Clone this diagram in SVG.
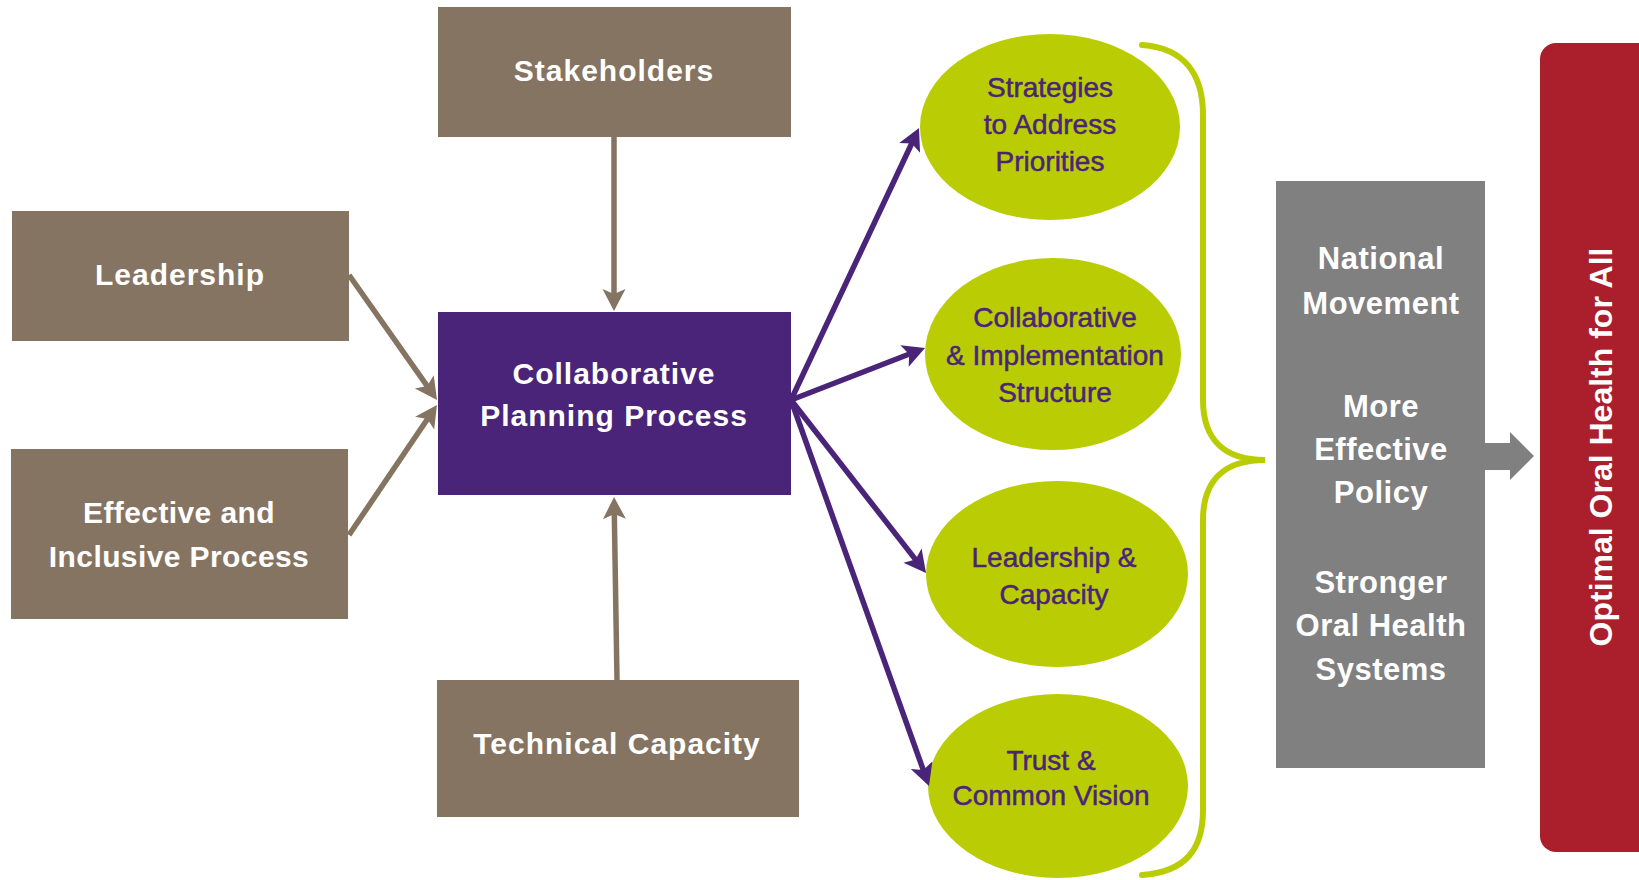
<svg xmlns="http://www.w3.org/2000/svg" width="1639" height="880" viewBox="0 0 1639 880">
<style>
.box{fill:#857462}
.boxt{font-family:"Liberation Sans",Arial,sans-serif;font-weight:bold;font-size:30px;fill:#ffffff;text-anchor:middle;letter-spacing:1px}
.tight{letter-spacing:0.4px}
.ell{fill:#bacd04}
.ellt{font-family:"Liberation Sans",Arial,sans-serif;font-size:28px;fill:#4a2478;stroke:#4a2478;stroke-width:0.5px;text-anchor:middle}
.grayt{font-family:"Liberation Sans",Arial,sans-serif;font-weight:bold;font-size:31px;fill:#ffffff;text-anchor:middle;letter-spacing:0.5px}
.bl{stroke:#857462;stroke-width:5.5;fill:none}
.pl{stroke:#4a2478;stroke-width:5.5;fill:none}
</style>
<defs>
<marker id="ab" markerUnits="userSpaceOnUse" markerWidth="40" markerHeight="40" refX="0" refY="0" viewBox="-20 -20 40 40" orient="auto" overflow="visible">
<path d="M-6,-11.5 L16,0 L-6,11.5 L-1,0 Z" fill="#857462"/>
</marker>
<marker id="ap" markerUnits="userSpaceOnUse" markerWidth="40" markerHeight="40" refX="0" refY="0" viewBox="-20 -20 40 40" orient="auto" overflow="visible">
<path d="M-6,-11.5 L16,0 L-6,11.5 L-1,0 Z" fill="#4a2478"/>
</marker>
</defs>

<g id="stakeholders">
<rect class="box" x="438" y="7" width="353" height="130"/>
<text class="boxt" x="614" y="81">Stakeholders</text>
</g>
<g id="leadership">
<rect class="box" x="12" y="211" width="337" height="130"/>
<text class="boxt" x="180" y="285">Leadership</text>
</g>
<g id="effective">
<rect class="box" x="11" y="449" width="337" height="170"/>
<text class="boxt tight" x="179" y="523">Effective and</text>
<text class="boxt tight" x="179" y="567">Inclusive Process</text>
</g>
<g id="technical">
<rect class="box" x="437" y="680" width="362" height="137"/>
<text class="boxt" x="617" y="754">Technical Capacity</text>
</g>
<g id="cpp">
<rect x="438" y="312" width="353" height="183" fill="#4a2478"/>
<text class="boxt" x="614" y="384">Collaborative</text>
<text class="boxt" x="614" y="426">Planning Process</text>
</g>

<g id="strategies">
<ellipse class="ell" cx="1050" cy="127" rx="130" ry="93"/>
<text class="ellt" x="1050" y="97">Strategies</text>
<text class="ellt" x="1050" y="134">to Address</text>
<text class="ellt" x="1050" y="171">Priorities</text>
</g>
<g id="structure">
<ellipse class="ell" cx="1053" cy="354" rx="128" ry="96"/>
<text class="ellt" x="1055" y="327">Collaborative</text>
<text class="ellt" x="1055" y="365">&amp; Implementation</text>
<text class="ellt" x="1055" y="402">Structure</text>
</g>
<g id="leadcap">
<ellipse class="ell" cx="1057" cy="574" rx="131" ry="93"/>
<text class="ellt" x="1054" y="567">Leadership &amp;</text>
<text class="ellt" x="1054" y="604">Capacity</text>
</g>
<g id="trust">
<ellipse class="ell" cx="1058" cy="786" rx="130" ry="92"/>
<text class="ellt" x="1051" y="770">Trust &amp;</text>
<text class="ellt" x="1051" y="805">Common Vision</text>
</g>

<g id="brace">
<path d="M1142,45 C1185,48 1203,75 1203,115 L1203,400 C1203,440 1225,460 1265,460 C1225,460 1203,480 1203,520 L1203,810 C1203,850 1185,872 1142,875" fill="none" stroke="#bacd04" stroke-width="6" stroke-linecap="round"/>
</g>

<g id="outcomes">
<rect x="1276" y="181" width="209" height="587" fill="#808080"/>
<polygon points="1485,443 1510,443 1510,432 1534,456 1510,480 1510,470 1485,470" fill="#808080"/>
<text class="grayt" x="1381" y="269">National</text>
<text class="grayt" x="1381" y="314">Movement</text>
<text class="grayt" x="1381" y="417">More</text>
<text class="grayt" x="1381" y="460">Effective</text>
<text class="grayt" x="1381" y="503">Policy</text>
<text class="grayt" x="1381" y="593">Stronger</text>
<text class="grayt" x="1381" y="636">Oral Health</text>
<text class="grayt" x="1381" y="680">Systems</text>
</g>

<g id="optimal">
<rect x="1540" y="43" width="130" height="809" rx="16" fill="#ab1e2b"/>
<text transform="translate(1612,447) rotate(-90)" x="0" y="0" font-family="'Liberation Sans',Arial,sans-serif" font-weight="bold" font-size="32" fill="#ffffff" text-anchor="middle">Optimal Oral Health for All</text>
</g>

<g id="connectors">
<line class="bl" x1="614" y1="137" x2="614" y2="295" marker-end="url(#ab)"/>
<line class="bl" x1="349" y1="275" x2="427.8" y2="386.9" marker-end="url(#ab)"/>
<line class="bl" x1="349" y1="535" x2="428" y2="418.2" marker-end="url(#ab)"/>
<line class="bl" x1="617" y1="680" x2="614.3" y2="513" marker-end="url(#ab)"/>
<line class="pl" x1="791" y1="400" x2="912.2" y2="142.5" marker-end="url(#ap)"/>
<line class="pl" x1="791" y1="400" x2="910.1" y2="353.8" marker-end="url(#ap)"/>
<line class="pl" x1="791" y1="400" x2="916.2" y2="560.4" marker-end="url(#ap)"/>
<line class="pl" x1="791" y1="400" x2="923.6" y2="770.9" marker-end="url(#ap)"/>
</g>
</svg>
